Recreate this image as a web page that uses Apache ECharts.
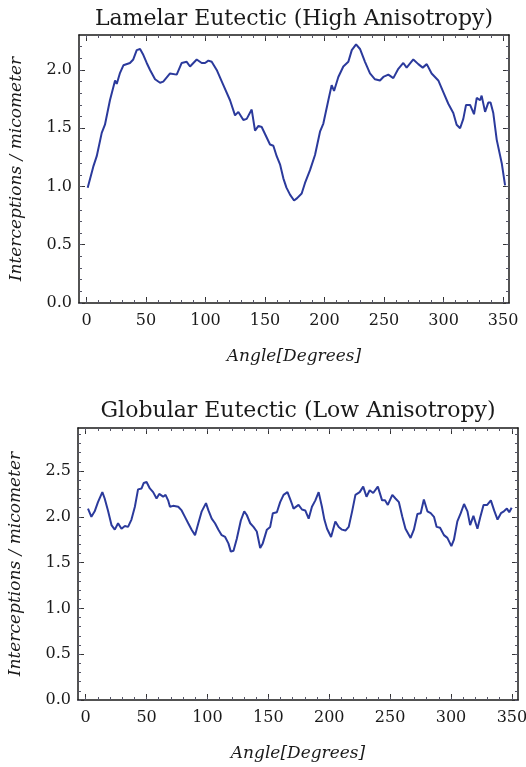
<!DOCTYPE html>
<html>
<head>
<meta charset="utf-8">
<script src="https://cdn.jsdelivr.net/npm/echarts@6/dist/echarts.min.js"></script>
<style>html,body{margin:0;padding:0;background:#fff}#c{width:526px;height:767px}</style>
</head>
<body>
<div id="c"></div>
<script>
// ---- data ----
const topTitle = 'Lamelar Eutectic (High Anisotropy)';
const bottomTitle = 'Globular Eutectic (Low Anisotropy)';
const xName = 'Angle[Degrees]';
const yName = 'Interceptions / micometer';

const xTicks = [0, 50, 100, 150, 200, 250, 300, 350];
const xMinor = [0,10,20,30,40,50,60,70,80,90,100,110,120,130,140,150,160,170,180,190,200,210,220,230,240,250,260,270,280,290,300,310,320,330,340,350];
const topYTicks = [0.0, 0.5, 1.0, 1.5, 2.0];
const topYMinor = [0,0.1,0.2,0.3,0.4,0.5,0.6,0.7,0.8,0.9,1.0,1.1,1.2,1.3,1.4,1.5,1.6,1.7,1.8,1.9,2.0,2.1,2.2];
const botYTicks = [0.0, 0.5, 1.0, 1.5, 2.0, 2.5];
const botYMinor = [0,0.1,0.2,0.3,0.4,0.5,0.6,0.7,0.8,0.9,1.0,1.1,1.2,1.3,1.4,1.5,1.6,1.7,1.8,1.9,2.0,2.1,2.2,2.3,2.4,2.5,2.6,2.7,2.8,2.9];

const topAngles = [1,5.7,8.6,12.8,15.5,19.7,24,25.4,28,31,36.5,39.3,42.2,45,47.7,50.6,53.4,57.6,61.8,64.5,70.2,75.8,80,84.2,87,92.6,96.8,99.6,102.4,105.2,109.4,115,120.6,124.8,127.6,131.8,134.6,138.8,141.6,144.5,147.2,150,154.2,157,159.8,162.6,165.4,168,171,174.4,177,180.8,183.6,187.8,192,196.2,199,203.2,206,208,211.6,215.8,220,222.9,226.5,229.8,234,238.2,242.4,246.6,249.4,253.6,257.8,262,266.2,269,274.6,278.8,282.5,285.9,290,295.6,299.8,304,308.2,311,313.9,316.6,318.9,322.3,325.6,327.9,330.7,332,334.9,337.6,339.5,341.8,344.7,348.9,351.7];
const topValues = [0.99,1.17,1.26,1.46,1.53,1.74,1.91,1.88,1.97,2.04,2.06,2.09,2.17,2.18,2.13,2.06,2.00,1.92,1.89,1.90,1.97,1.96,2.06,2.07,2.03,2.09,2.06,2.06,2.08,2.07,2.00,1.87,1.74,1.61,1.64,1.57,1.58,1.66,1.48,1.52,1.51,1.45,1.36,1.35,1.26,1.19,1.07,0.99,0.93,0.88,0.90,0.94,1.03,1.14,1.27,1.47,1.54,1.74,1.87,1.82,1.94,2.03,2.07,2.17,2.22,2.18,2.07,1.97,1.92,1.91,1.94,1.96,1.93,2.01,2.06,2.02,2.09,2.05,2.02,2.05,1.97,1.91,1.81,1.71,1.63,1.53,1.50,1.58,1.70,1.70,1.62,1.76,1.74,1.78,1.64,1.72,1.72,1.63,1.40,1.20,1.01];

const botAngles = [1.9,4.7,7.4,10.1,13.7,15.6,18.3,21.2,23.9,26.6,29.4,32.2,34.8,37.6,40.4,43.0,45.9,47.7,50.0,52.7,55.4,58.2,60.4,63.6,65.6,67.7,69.2,71.8,76.0,78.8,81.5,84.2,87.0,89.8,92.5,95.3,98.8,100.8,103.5,106.2,109.0,111.7,114.5,117.2,119.2,121.4,124.1,127.4,130.2,132.3,135.1,137.8,140.5,143.3,145.4,148.8,151.5,153.7,157.0,159.7,162.5,165.7,168.0,169.4,170.7,172.1,174.8,177.6,180.3,183.1,185.8,188.6,191.3,194.0,196.0,198.2,201.5,205.0,207.8,210.5,213.3,216.0,218.8,221.5,225.0,227.9,230.6,233.2,236.1,239.9,243.4,245.8,248.1,251.8,254.4,257.2,260.0,262.6,266.8,269.5,272.4,275.1,277.7,280.6,283.3,286.0,288.2,291.0,294.2,297.0,300.3,302.4,305.2,308.0,310.7,313.5,315.7,318.4,321.7,323.9,326.7,329.7,332.7,335.4,338.2,341.0,343.4,345.9,347.8,349.8];
const botValues = [2.09,2.00,2.06,2.16,2.27,2.20,2.07,1.91,1.86,1.93,1.87,1.90,1.89,1.97,2.11,2.30,2.31,2.37,2.38,2.31,2.27,2.20,2.25,2.22,2.24,2.18,2.11,2.12,2.11,2.07,2.00,1.93,1.86,1.80,1.93,2.06,2.15,2.07,1.98,1.93,1.86,1.80,1.78,1.71,1.62,1.63,1.76,1.96,2.06,2.02,1.93,1.89,1.84,1.66,1.71,1.86,1.89,2.04,2.05,2.16,2.24,2.27,2.19,2.14,2.09,2.07,2.13,2.08,2.07,1.98,2.11,2.18,2.27,2.11,1.97,1.87,1.78,1.95,1.89,1.86,1.85,1.89,2.06,2.24,2.27,2.33,2.22,2.29,2.26,2.33,2.18,2.18,2.13,2.24,2.20,2.16,2.00,1.87,1.77,1.86,2.03,2.04,2.19,2.06,2.04,2.00,1.89,1.88,1.80,1.77,1.68,1.75,1.95,2.04,2.14,2.06,1.91,2.01,1.87,1.99,2.13,2.13,2.18,2.07,1.97,2.04,2.06,2.09,2.05,2.10];

// ---- chart ----
const SERIF = '"DejaVu Serif", "Liberation Serif", serif';
const LINE = '#2b3a9c';
const FRAME = '#1a1a1a';
const X_MIN = -6.3, X_MAX = 355;

function xAxes(grid, withName) {
  const base = {type:'value', gridIndex:grid, min:X_MIN, max:X_MAX, splitLine:{show:false}};
  return [
    Object.assign({}, base, {position:'bottom',
      axisLine:{show:true, onZero:false, lineStyle:{color:FRAME, width:1.5}},
      axisTick:{show:true, inside:true, length:6, customValues:xTicks, lineStyle:{color:'#333', width:1}},
      axisLabel:{show:true, customValues:xTicks, margin:10, color:'#1a1a1a', fontFamily:SERIF, fontSize:16},
      name:xName, nameLocation:'middle', nameGap:45,
      nameTextStyle:{fontFamily:SERIF, fontStyle:'italic', fontSize:17, color:'#1a1a1a'}}),
    Object.assign({}, base, {position:'bottom',
      axisLine:{show:false, onZero:false},
      axisTick:{show:true, inside:true, length:3, customValues:xMinor, lineStyle:{color:'#556', width:1}},
      axisLabel:{show:false}}),
    Object.assign({}, base, {position:'top',
      axisLine:{show:true, onZero:false, lineStyle:{color:FRAME, width:1.5}},
      axisTick:{show:true, inside:true, length:6, customValues:xTicks, lineStyle:{color:'#333', width:1}},
      axisLabel:{show:false}}),
    Object.assign({}, base, {position:'top',
      axisLine:{show:false, onZero:false},
      axisTick:{show:true, inside:true, length:3, customValues:xMinor, lineStyle:{color:'#556', width:1}},
      axisLabel:{show:false}})
  ];
}
function yAxes(grid, max, ticks, minor) {
  const base = {type:'value', gridIndex:grid, min:0, max:max, splitLine:{show:false}};
  return [
    Object.assign({}, base, {position:'left',
      axisLine:{show:true, onZero:false, lineStyle:{color:FRAME, width:1.5}},
      axisTick:{show:true, inside:true, length:6, customValues:ticks, lineStyle:{color:'#333', width:1}},
      axisLabel:{show:true, customValues:ticks, margin:7, color:'#1a1a1a', fontFamily:SERIF, fontSize:16,
        formatter: v => v.toFixed(1)},
      name:yName, nameLocation:'middle', nameGap:54,
      nameTextStyle:{fontFamily:SERIF, fontStyle:'italic', fontSize:17, color:'#1a1a1a'}}),
    Object.assign({}, base, {position:'left',
      axisLine:{show:false, onZero:false},
      axisTick:{show:true, inside:true, length:3, customValues:minor, lineStyle:{color:'#556', width:1}},
      axisLabel:{show:false}}),
    Object.assign({}, base, {position:'right',
      axisLine:{show:true, onZero:false, lineStyle:{color:FRAME, width:1.5}},
      axisTick:{show:true, inside:true, length:6, customValues:ticks, lineStyle:{color:'#333', width:1}},
      axisLabel:{show:false}}),
    Object.assign({}, base, {position:'right',
      axisLine:{show:false, onZero:false},
      axisTick:{show:true, inside:true, length:3, customValues:minor, lineStyle:{color:'#556', width:1}},
      axisLabel:{show:false}})
  ];
}

const chart = echarts.init(document.getElementById('c'), null, {renderer:'canvas'});
chart.setOption({
  animation:false,
  backgroundColor:'#fff',
  title:[
    {text:topTitle, left:294, top:8, textAlign:'center', padding:0,
      textStyle:{fontFamily:SERIF, fontWeight:'normal', fontSize:22, color:'#1a1a1a'}},
    {text:bottomTitle, left:298, top:400, textAlign:'center', padding:0,
      textStyle:{fontFamily:SERIF, fontWeight:'normal', fontSize:22, color:'#1a1a1a'}}
  ],
  grid:[
    {left:79, top:35, width:430, height:268, containLabel:false, outerBoundsMode:'none'},
    {left:78, top:428, width:440, height:272, containLabel:false, outerBoundsMode:'none'}
  ],
  xAxis: xAxes(0).concat(xAxes(1)),
  yAxis: yAxes(0, 2.3, topYTicks, topYMinor).concat(yAxes(1, 2.97, botYTicks, botYMinor)),
  series:[
    {type:'line', xAxisIndex:0, yAxisIndex:0, showSymbol:false, symbol:'none',
      lineStyle:{color:LINE, width:2}, data: topAngles.map((a,i)=>[a, topValues[i]])},
    {type:'line', xAxisIndex:4, yAxisIndex:4, showSymbol:false, symbol:'none',
      lineStyle:{color:LINE, width:2}, data: botAngles.map((a,i)=>[a, botValues[i]])}
  ]
});
</script>
</body>
</html>
